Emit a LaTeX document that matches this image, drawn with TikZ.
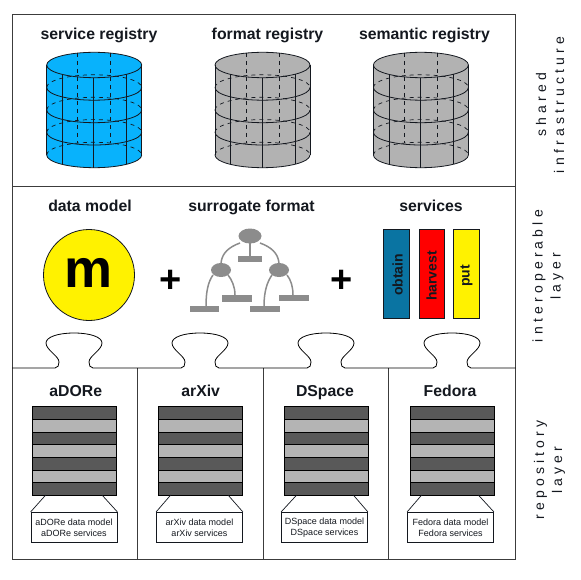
\documentclass[tikz,border=0pt]{standalone}
\usepackage{fontspec}
\setmainfont{Liberation Sans}
\definecolor{cylblue}{HTML}{08B2FC}
\definecolor{cylgrey}{HTML}{B2B2B2}
\definecolor{treegrey}{HTML}{8C8C8C}
\definecolor{banddark}{HTML}{595959}
\definecolor{bandlight}{HTML}{B4B4B4}
\definecolor{ink}{HTML}{14181F}
\definecolor{frame}{HTML}{3C3C3C}
\definecolor{obtainblue}{HTML}{0A74A2}
\tikzset{
  titlelabel/.style={font=\fontsize{15.8}{18}\selectfont\bfseries,text=ink,inner sep=0pt,anchor=base},
  sidelabel/.style={font=\fontsize{14}{18}\selectfont\addfontfeature{LetterSpace=30},rotate=90,align=center,inner sep=0pt,text=ink},
  barlabel/.style={font=\fontsize{14}{16}\selectfont\bfseries,rotate=90,inner sep=0pt,text=ink},
  plussign/.style={font=\fontsize{38}{40}\selectfont\bfseries,inner sep=0pt,text=black},
  framepart/.style={draw=frame,line width=1pt},
  cylline/.style={draw=ink,line width=.8pt},
  cyldash/.style={draw=ink,line width=.7pt,dash pattern=on 4pt off 4pt},
  treepart/.style={fill=treegrey,draw=none},
  treeline/.style={draw=treegrey,line width=1.5pt},
  barbox/.style={draw=ink,line width=.8pt},
  band/.style={draw=black,line width=.7pt},
  notebox/.style={draw=ink,line width=.8pt,fill=white,minimum width=86pt,minimum height=30.5pt,inner sep=0pt,align=center,text=ink,font=\fontsize{9}{11}\selectfont},
  repolink/.style={draw=ink,line width=.7pt},
  knobline/.style={draw=black,line width=.8pt}
}
% half ellipses of the drum, centred at x=94.2
\newcommand{\drumfront}[1]{(46.7,#1) .. controls (46.7,#1+7) and (68,#1+12.7) .. (94.2,#1+12.7) .. controls (120.4,#1+12.7) and (141.7,#1+7) .. (141.7,#1)}
\newcommand{\drumback}[1]{(46.7,#1) .. controls (46.7,#1-7) and (68,#1-12.7) .. (94.2,#1-12.7) .. controls (120.4,#1-12.7) and (141.7,#1-7) .. (141.7,#1)}
\newcommand{\drum}[2]{%
  \begin{scope}[xshift=#1pt]
    \fill[#2] (46.7,65) .. controls (46.7,58) and (68,52.3) .. (94.2,52.3) .. controls (120.4,52.3) and (141.7,58) .. (141.7,65) -- (141.7,155) .. controls (141.7,162) and (120.4,167.7) .. (94.2,167.7) .. controls (68,167.7) and (46.7,162) .. (46.7,155) -- cycle;
    \foreach \cy in {87.5,110,132.3,155} {\draw[cyldash] \drumback{\cy};}
    \draw[cyldash] (77.7,53) -- (77.7,143);
    \draw[cyldash] (110.7,53) -- (110.7,143);
    \foreach \cy in {65,87.5,110,132.3} {\draw[cylline] \drumfront{\cy};}
    \draw[cylline] \drumback{65};
    \draw[cylline] \drumfront{155};
    \draw[cylline] (46.7,65) -- (46.7,155);
    \draw[cylline] (141.7,65) -- (141.7,155);
    \draw[cylline] (62.3,74.5) -- (62.3,164.5);
    \draw[cylline] (93.7,77.7) -- (93.7,167.7);
    \draw[cylline] (126.7,74.5) -- (126.7,164.5);
  \end{scope}}
\newcommand{\knob}[1]{({#1-19},368) .. controls ({#1-16},368) and ({#1-15},365) .. ({#1-15},362) .. controls ({#1-15},356) and ({#1-28},350) .. ({#1-28},343) .. controls ({#1-28},337) and ({#1-16},333) .. ({#1},333) .. controls ({#1+16},333) and ({#1+28},337) .. ({#1+28},343) .. controls ({#1+28},350) and ({#1+15},356) .. ({#1+15},362) .. controls ({#1+15},365) and ({#1+16},368) .. ({#1+19},368)}
% #1 name, #2 stack left, #3 box centre, #4 link left, #5 link right, #6 title centre, #7 title, #8 first line, #9 second line
\newcommand{\repo}[9]{%
  \foreach \k/\col in {0/banddark,1/bandlight,2/banddark,3/bandlight,4/banddark,5/bandlight,6/banddark} {
    \draw[band,fill=\col] (#2,406.7+\k*12.63) rectangle (#2+84,406.7+\k*12.63+12.63);
  }
  \node[titlelabel] (#1-title) at (#6,396) {#7};
  \node[notebox] (#1-note) at (#3,527.6) {#8\\#9};
  \coordinate (#1-a) at (#4,495);
  \coordinate (#1-b) at (#5,495);
  \draw[repolink] (#1-a) -- (#1-note.north west);
  \draw[repolink] (#1-b) -- (#1-note.north east);
}
\begin{document}
\begin{tikzpicture}[x=1pt,y=-1pt]
\useasboundingbox (0,0) rectangle (580,580);
\fill[white] (0,0) rectangle (580,580);

% frame
\draw[framepart] (12,15) rectangle (515.5,559.5);
\draw[framepart] (12,186) -- (515.5,186);
\draw[framepart] (137,368) -- (137,559.5);
\draw[framepart] (263,368) -- (263,559.5);
\draw[framepart] (388.7,368) -- (388.7,559.5);

% puzzle line
\draw[knobline] (12,368) -- \knob{74} -- \knob{200} -- \knob{326} -- \knob{452} -- (515.5,368);

% registries
\node[titlelabel] (t-service) at (99,40) {service registry};
\node[titlelabel] (t-format) at (267.5,40) {format registry};
\node[titlelabel] (t-semantic) at (424.5,40) {semantic registry};
\drum{0}{cylblue}
\drum{168.3}{cylgrey}
\drum{326.7}{cylgrey}

% data model
\node[titlelabel] (t-model) at (90,211) {data model};
\node[circle,draw=ink,line width=.8pt,fill=yellow,minimum size=91pt,inner sep=0pt] (circ) at (89,275) {};
\node[font=\fontsize{54}{56}\selectfont\bfseries,inner sep=0pt,text=black,anchor=base] (m) at (89,287) {m};
\node[plussign] (plus1) at (170.7,281.5) {+};
\node[plussign] (plus2) at (342,281.5) {+};

% surrogate format
\node[titlelabel] (t-surrogate) at (251.5,211) {surrogate format};
\coordinate (tr-top) at (250,236);
\coordinate (tr-l) at (221,270);
\coordinate (tr-r) at (279,270);
\draw[treeline] (250,243) -- (250,256);
\draw[treeline] (240,243) .. controls (229,247) and (222,253) .. (221,263);
\draw[treeline] (260,243) .. controls (271,247) and (278,253) .. (279,263);
\draw[treeline] (213,275) .. controls (208,282) and (206,292) .. (206,306);
\draw[treeline] (228,275) .. controls (232,280) and (235,287) .. (235,295);
\draw[treeline] (272,275) .. controls (267,282) and (264,292) .. (264,306);
\draw[treeline] (287,275) .. controls (291,280) and (293,287) .. (293,295);
\fill[treepart] (tr-top) ellipse [x radius=11.5,y radius=7.5];
\fill[treepart] (tr-l) ellipse [x radius=10,y radius=7];
\fill[treepart] (tr-r) ellipse [x radius=10,y radius=7];
\fill[treepart] (238,255.7) rectangle (262.3,262.3);
\fill[treepart] (222.3,295) rectangle (251.7,301.7);
\fill[treepart] (189.7,305.7) rectangle (219.3,312.3);
\fill[treepart] (249.7,305.7) rectangle (280,312.3);
\fill[treepart] (279.3,295) rectangle (308.7,300.7);

% services
\node[titlelabel] (t-services) at (431,211) {services};
\draw[barbox,fill=obtainblue] (383.3,229.3) rectangle (409.7,318);
\draw[barbox,fill=red] (419,229.3) rectangle (444,318);
\draw[barbox,fill=yellow] (453.3,229.3) rectangle (479.3,318);
\node[barlabel] (obtain) at (397.5,275) {obtain};
\node[barlabel] (harvest) at (431.5,276) {harvest};
\node[barlabel] (put) at (466.5,276) {put};

% repositories
\repo{adore}{32.5}{74}{45.7}{102}{75.7}{aDORe}{aDORe data model}{aDORe services}
\repo{arxiv}{158.3}{199.5}{170.7}{228}{200.7}{arXiv}{arXiv data model}{arXiv services}
\repo{dspace}{284.3}{324.5}{296.7}{353.3}{325}{DSpace}{DSpace data model}{DSpace services}
\repo{fedora}{410.2}{450.5}{421.7}{478.3}{450}{Fedora}{Fedora data model}{Fedora services}

% side labels
\node[sidelabel] (s-shared) at (550,105) {shared\\infrastructure};
\node[sidelabel] (s-inter) at (548,276) {interoperable\\layer};
\node[sidelabel] (s-repo) at (549.5,470) {repository\\layer};
\end{tikzpicture}
\end{document}
